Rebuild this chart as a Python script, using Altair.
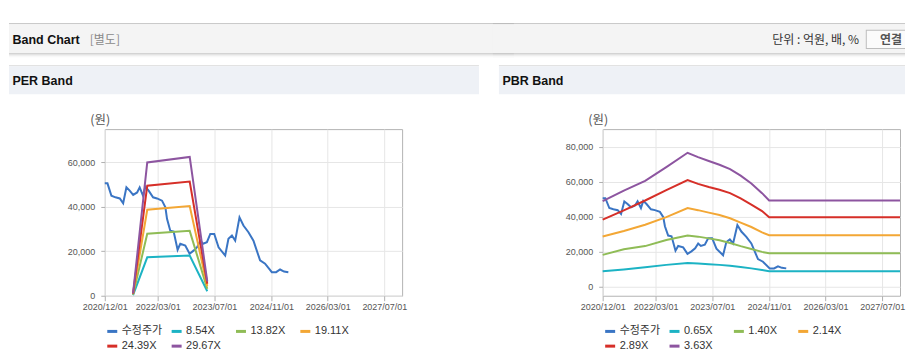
import altair as alt
import pandas as pd

# ---------------- data ----------------
price_name = "수정주가"
price_dates = ["2020-12-01", "2020-12-24", "2021-01-27", "2021-03-03", "2021-04-09", "2021-05-08",
               "2021-06-05", "2021-07-03", "2021-08-02", "2021-09-05", "2021-09-27", "2021-10-26",
               "2021-11-15", "2021-12-13", "2022-01-20", "2022-02-23", "2022-04-07", "2022-05-06",
               "2022-05-20", "2022-06-17", "2022-07-16", "2022-08-19", "2022-09-11", "2022-10-24",
               "2022-11-30", "2023-01-03", "2023-02-04", "2023-03-02", "2023-03-25", "2023-04-28",
               "2023-05-27", "2023-06-30", "2023-08-06", "2023-10-02", "2023-10-30", "2023-11-29",
               "2023-12-27", "2024-02-02", "2024-03-07", "2024-04-19", "2024-06-01", "2024-07-28",
               "2024-09-09", "2024-11-06", "2024-12-13", "2025-01-16", "2025-02-19", "2025-03-28"]
price_values = [50600, 50600, 45000, 44300, 43800, 41600, 48800, 47300, 45400, 46500, 48800, 45000,
                49100, 47300, 44300, 43800, 42800, 39800, 34600, 29300, 28900, 20700, 23400, 22600,
                18900, 20300, 22000, 24800, 23400, 24100, 27800, 27800, 21800, 18100, 25600, 27100,
                24800, 35300, 31600, 28600, 24800, 15900, 14400, 10600, 10600, 11800, 10900, 10600]

per_names = ["8.54X", "13.82X", "19.11X", "24.39X", "29.67X"]
per_dates = ["2021-08-01", "2021-12-01", "2022-12-01", "2023-05-01"]
per_854 = [300, 17300, 18100, 2000]
per_1382 = [500, 27900, 29200, 3100]
per_1911 = [700, 38700, 40400, 4300]
per_2439 = [900, 49500, 51400, 5400]
per_2967 = [1100, 60000, 62500, 6500]

pbr_names = ["0.65X", "1.40X", "2.14X", "2.89X", "3.63X"]
pbr_dates = ["2020-12-01", "2021-06-01", "2021-12-01", "2022-06-01", "2022-12-01", "2023-03-01",
             "2023-06-01", "2023-09-01", "2023-12-01", "2024-03-01", "2024-06-01", "2024-09-01",
             "2024-11-01", "2027-12-01"]
pbr_065 = [8900, 10000, 11300, 12600, 13600, 13400, 13000, 12600, 12100, 11400, 10600, 9700, 9000, 9000]
pbr_140 = [18300, 21500, 23300, 26800, 29300, 28700, 27700, 26600, 25100, 23300, 21700, 20000, 19200, 19200]
pbr_214 = [28800, 31900, 35500, 39800, 45000, 43800, 42400, 41000, 39200, 36700, 34200, 31100, 29500, 29500]
pbr_289 = [38400, 43700, 49300, 55200, 61000, 58800, 57000, 55400, 53500, 50500, 47000, 43300, 39800, 39800]
pbr_363 = [49000, 54900, 60500, 68300, 76500, 74000, 71800, 69700, 67200, 63500, 59000, 53500, 49300, 49300]

line_colors = ["#3a75c4", "#1cb3c4", "#8fbc56", "#f3a735", "#d62f28", "#8d55a0"]
x_ticks = [(2020, 12), (2022, 3), (2023, 7), (2024, 11), (2026, 3), (2027, 7)]
per_yticks = [0, 20000, 40000, 60000]
pbr_yticks = [0, 20000, 40000, 60000, 80000]

FONT = "Liberation Sans, Noto Sans CJK KR, sans-serif"
KFONT = "Noto Sans CJK KR, Liberation Sans, sans-serif"
W, H = 298, 167


def make_df(names, dates, lists):
    rows = [{"date": d, "value": v, "series": price_name} for d, v in zip(price_dates, price_values)]
    for n, vals in zip(names, lists):
        rows += [{"date": d, "value": v, "series": n} for d, v in zip(dates, vals)]
    return pd.DataFrame(rows)


one = pd.DataFrame({"k": [0]})


def box(x1, x2, y1, y2, color):
    return alt.Chart(one).mark_rect(color=color).encode(
        x=alt.value(x1), x2=alt.value(x2), y=alt.value(y1), y2=alt.value(y2))


def label(text, x, y, size=12, color="#333333", weight="normal", align="left", font=FONT):
    return alt.Chart(one).mark_text(text=text, fontSize=size, color=color, fontWeight=weight,
                                    align=align, baseline="middle", font=font).encode(
        x=alt.value(x), y=alt.value(y))


def header_bar(x1, x2):
    return [
        box(x1, x2, -106, -105, "#b8b8b8"),
        box(x1, x2, -105, -76, "#f4f4f4"),
        box(x1, x2, -76, -75, "#c6c6c6"),
        box(x1, x2, -75, -74, "#dedede"),
        box(x1, x2, -74, -73, "#ececec"),
        box(x1, x2, -73, -72, "#f7f7f7"),
    ]


def band_chart(title, df, names, ydom, yticks, left, right, hdr_left, hdr_right, extras):
    dt = lambda y, m: alt.DateTime(year=y, month=m, date=1, utc=True)
    lines = alt.Chart(df).mark_line(strokeWidth=2).encode(
        x=alt.X("date:T",
                scale=alt.Scale(type="utc", domain=[dt(2020, 12), dt(2027, 12)], nice=False),
                axis=alt.Axis(values=[dt(y, m) for y, m in x_ticks],
                              labelExpr="utcFormat(datum.value, '%Y/%m/%d')",
                              grid=True, gridColor="#e6e6e6", domain=False,
                              tickSize=5, tickColor="#b0b0b0", labelFontSize=9,
                              labelColor="#555555", labelPadding=2, labelFont=FONT,
                              labelFlush=False, labelOverlap=False, title=None)),
        y=alt.Y("value:Q",
                scale=alt.Scale(domain=ydom, nice=False, zero=False),
                axis=alt.Axis(values=yticks, format=",d", grid=True, gridColor="#e6e6e6",
                              domain=False, tickSize=4, tickColor="#b0b0b0", labelFontSize=9,
                              labelColor="#555555", labelPadding=6, labelFont=FONT,
                              labelFlush=False, title="(원)", titleAngle=0, titleX=-5,
                              titleY=-10, titleAlign="center", titleBaseline="middle",
                              titleFontSize=12.5, titleFontWeight="normal", titleColor="#555555",
                              titleFont=KFONT)),
        color=alt.Color("series:N",
                        scale=alt.Scale(domain=[price_name] + names, range=line_colors),
                        legend=alt.Legend(orient="none", legendX=1, legendY=196,
                                          direction="horizontal", columns=4, title=None,
                                          symbolType="stroke", symbolStrokeWidth=3,
                                          symbolSize=100, labelFontSize=11, labelFont=FONT,
                                          labelColor="#333333", columnPadding=2.5, rowPadding=2,
                                          gridAlign="all", labelOffset=3, padding=0)),
    )
    layers = header_bar(hdr_left, hdr_right) + extras + [
        box(-left, right, -64, -63, "#d9d9d9"),
        box(-left, right, -63, -35, "#eef1f6"),
        label(title, -left + 3.5, -48, size=12.5, color="#111111", weight="bold"),
        lines,
    ]
    return alt.layer(*layers).properties(width=W, height=H)


per_extras = [
    label("Band Chart", -92.5, -89.7, size=12.5, color="#111111", weight="bold"),
    label("[별도]", -15, -89.7, size=12, color="#8a8a8a", font=KFONT),
]
pbr_extras = [
    label("단위 : 억원, 배, %", 257, -89.7, size=12, color="#333333", align="right", font=KFONT),
    box(263.7, 303, -99.7, -80.3, "#bdbdbd"),
    box(264.7, 303, -98.7, -81.3, "#fbfbfb"),
    label("연결", 289, -89.7, size=12, color="#555555", align="center", weight="bold", font=KFONT),
]

per = band_chart("PER Band", make_df(per_names, per_dates,
                                     [per_854, per_1382, per_1911, per_2439, per_2967]),
                 per_names, [0, 75000], per_yticks, 96, 375, -96, 410, per_extras)
pbr = band_chart("PBR Band", make_df(pbr_names, pbr_dates,
                                     [pbr_065, pbr_140, pbr_214, pbr_289, pbr_363]),
                 pbr_names, [-5000, 90000], pbr_yticks, 104, 303, -110, 303, pbr_extras)

chart = alt.hconcat(per, pbr, spacing=201, bounds="flush").resolve_scale(
    x="independent", y="independent", color="independent"
).properties(padding={"left": 0, "top": 14, "right": 0, "bottom": 0}).configure(
    font=FONT).configure_view(stroke="#b3b3b3")

chart.save("out.html", embed_options={"renderer": "svg", "actions": False})
